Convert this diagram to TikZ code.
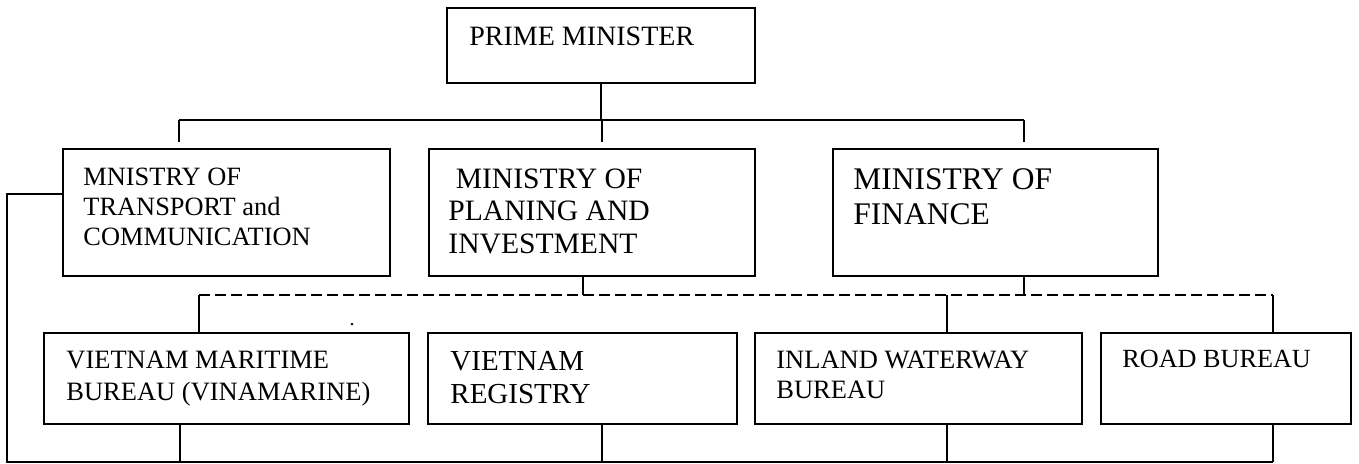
\documentclass[tikz,border=0pt]{standalone}
\usepackage{fontspec}
\setmainfont{Liberation Serif}
\usetikzlibrary{positioning}
\tikzset{
  unitbox/.style={draw, line width=1.2pt, inner sep=0pt},
  unittext/.style={anchor=base west, inner sep=0pt},
  link/.style={line width=0.95pt},
  dashlink/.style={line width=0.95pt, dash pattern=on 5.5pt off 2.5pt}
}
\newcommand{\unitfont}[2]{\fontsize{#1}{#2}\selectfont}
% name, left, top, right, bottom, text x, text baseline, font, text
\newcommand{\orgunit}[9]{
  \node[unitbox, minimum width={(#4-#2)*0.5pt}, minimum height={(#5-#3)*0.5pt}] (#1) at ({(#2+#4)/2},{(#3+#5)/2}) {};
  \node[unittext] (#1-txt) at (#6,#7) {#8\parbox[t]{250pt}{\raggedright #9}};
}

\begin{document}
\begin{tikzpicture}[x=0.5pt, y=-0.5pt]
\useasboundingbox (0,0) rectangle (1359,463);
% top
\orgunit{pm}{447}{8}{755}{83}{469}{45}{\unitfont{14pt}{16pt}}{PRIME MINISTER}
% ministries
\orgunit{mot}{63}{149}{390}{276}{83}{185}{\unitfont{13.2pt}{15pt}}{MNISTRY OF\\TRANSPORT and\\COMMUNICATION}
\orgunit{mopi}{429}{149}{755}{276}{448}{188}{\unitfont{14.8pt}{16.25pt}}{\ MINISTRY OF\\PLANING AND\\INVESTMENT}
\orgunit{mof}{833}{149}{1158}{276}{853}{189}{\unitfont{15.75pt}{17.5pt}}{MINISTRY OF\\FINANCE}
% agencies
\orgunit{vmb}{44}{333}{409}{424}{66}{368}{\unitfont{13.25pt}{16pt}}{VIETNAM MARITIME\\BUREAU (VINAMARINE)}
\orgunit{vr}{428}{333}{737}{424}{450}{370}{\unitfont{14.5pt}{16.5pt}}{VIETNAM\\REGISTRY}
\orgunit{iwb}{755}{333}{1082}{424}{776}{368}{\unitfont{13.25pt}{15pt}}{INLAND WATERWAY\\BUREAU}
\orgunit{road}{1101}{333}{1351}{424}{1122}{367}{\unitfont{13.1pt}{15pt}}{ROAD BUREAU}
\node[inner sep=0pt, anchor=base, font=\fontsize{10pt}{12pt}\selectfont] (dot) at (352,325) {.};

% solid bus under the prime minister
\coordinate (busL) at (179,120);
\coordinate (busR) at (1024,120);
\draw[link] (busL) -- (busR);
\draw[link] (pm.south) -- (pm.south |- busL);
\foreach \x in {179,602,1024} {
  \draw[link] (\x,120) -- (\x,142);
}

% dashed line to the agencies
\coordinate (dashL) at (199,295);
\coordinate (dashR) at (1273,295);
\draw[dashlink] (dashL) -- (dashR);
\draw[link] (583,0 |- mopi.south) -- (583,0 |- dashL);
\draw[link] (1024,0 |- mof.south) -- (1024,0 |- dashL);
\draw[link] (dashL) -- (dashL |- vmb.north);
\draw[link] (947,0 |- dashL) -- (947,0 |- iwb.north);
\draw[link] (dashR) -- (dashR |- road.north);

% ministry of transport line round the bottom
\coordinate (baseL) at (7,462);
\coordinate (baseR) at (1273,462);
\draw[link] (mot.west |- 0,194) -- (baseL |- 0,194) -- (baseL) -- (baseR);
\foreach \n/\x in {vmb/180, vr/602, iwb/947, road/1273} {
  \draw[link] (\x,0 |- \n.south) -- (\x,0 |- baseL);
}
\end{tikzpicture}
\end{document}
